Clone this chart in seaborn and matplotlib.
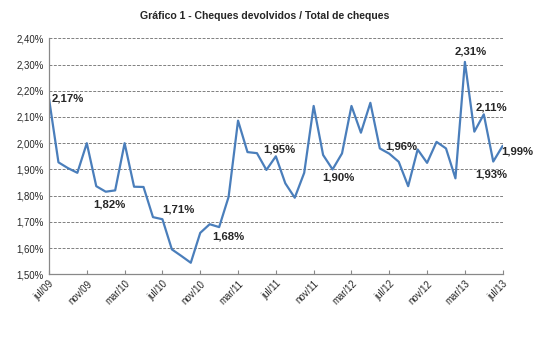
import matplotlib
matplotlib.use("Agg")
import matplotlib.pyplot as plt
import seaborn as sns
import pandas as pd
import numpy as np

months = ["jul/09","ago/09","set/09","out/09","nov/09","dez/09","jan/10","fev/10","mar/10","abr/10",
          "mai/10","jun/10","jul/10","ago/10","set/10","out/10","nov/10","dez/10","jan/11","fev/11",
          "mar/11","abr/11","mai/11","jun/11","jul/11","ago/11","set/11","out/11","nov/11","dez/11",
          "jan/12","fev/12","mar/12","abr/12","mai/12","jun/12","jul/12","ago/12","set/12","out/12",
          "nov/12","dez/12","jan/13","fev/13","mar/13","abr/13","mai/13","jun/13","jul/13"]
values = [2.17, 1.927, 1.905, 1.887, 2.00, 1.836, 1.815, 1.82, 2.00, 1.834,
          1.833, 1.718, 1.71, 1.595, 1.57, 1.544, 1.658, 1.691, 1.68, 1.795,
          2.086, 1.966, 1.962, 1.898, 1.95, 1.847, 1.792, 1.887, 2.142, 1.955,
          1.90, 1.961, 2.142, 2.04, 2.154, 1.98, 1.96, 1.929, 1.836, 1.976,
          1.925, 2.005, 1.98, 1.866, 2.31, 2.044, 2.11, 1.93, 1.99]
tick_labels = ["jul/09","nov/09","mar/10","jul/10","nov/10","mar/11","jul/11",
               "nov/11","mar/12","jul/12","nov/12","mar/13","jul/13"]
label_idx = [0, 7, 12, 18, 24, 30, 36, 44, 46, 47, 48]
label_off = [(3, 0), (-6, -14), (16, 10), (9, -9), (3, 7), (6, -8), (12, 7), (6, 10), (8, 7), (-2, -13), (15, -6)]

title = "Gráfico 1 - Cheques devolvidos / Total de cheques"

df = pd.DataFrame({"i": np.arange(len(values)), "v": values})

sns.set_style("white")
plt.rcParams["font.family"] = ["Liberation Sans", "DejaVu Sans"]

fig = plt.figure(figsize=(5.44, 3.37), dpi=100)
ax = fig.add_axes([49/544, 1-274.3/337, (502.7-49)/544, (274.3-38.3)/337])

sns.lineplot(data=df, x="i", y="v", ax=ax, color="#4a7ebb", linewidth=1.6)

ax.set_xlim(0, 48)
ax.set_ylim(1.5, 2.4)
ax.set_yticks(np.arange(1.5, 2.401, 0.1))
ax.set_yticklabels([f"{t:.2f}%".replace(".", ",") for t in np.arange(1.5, 2.401, 0.1)], fontsize=6.9)
ax.set_xticks(np.arange(0, 49, 4))
ax.set_xticklabels(tick_labels, rotation=45, ha="right", rotation_mode="anchor", fontsize=6.9)
ax.set_xlabel("")
ax.set_ylabel("")

ax.grid(axis="y", linestyle=(0, (3, 1.5)), color="#808080", linewidth=0.7)
ax.grid(axis="x", visible=False)
for s in ["top", "right"]:
    ax.spines[s].set_visible(False)
for s in ["left", "bottom"]:
    ax.spines[s].set_color("#888888")
    ax.spines[s].set_linewidth(0.9)
ax.tick_params(axis="x", which="major", bottom=True, length=3, width=0.8, color="#888888", direction="in", pad=3)
ax.tick_params(axis="y", which="major", left=False, length=0, pad=4)

for idx, (dx, dy) in zip(label_idx, label_off):
    txt = f"{values[idx]:.2f}%".replace(".", ",")
    ha = "left" if idx == 0 else "center"
    ax.annotate(txt, xy=(idx, values[idx]), xytext=(dx, dy), textcoords="offset pixels",
                ha=ha, va="center", fontsize=8.2, fontweight="bold", annotation_clip=False)

fig.text(0.487, 1-15.7/337, title, ha="center", va="center", fontsize=7.6, fontweight="bold")

fig.savefig("out.png", dpi=100)
